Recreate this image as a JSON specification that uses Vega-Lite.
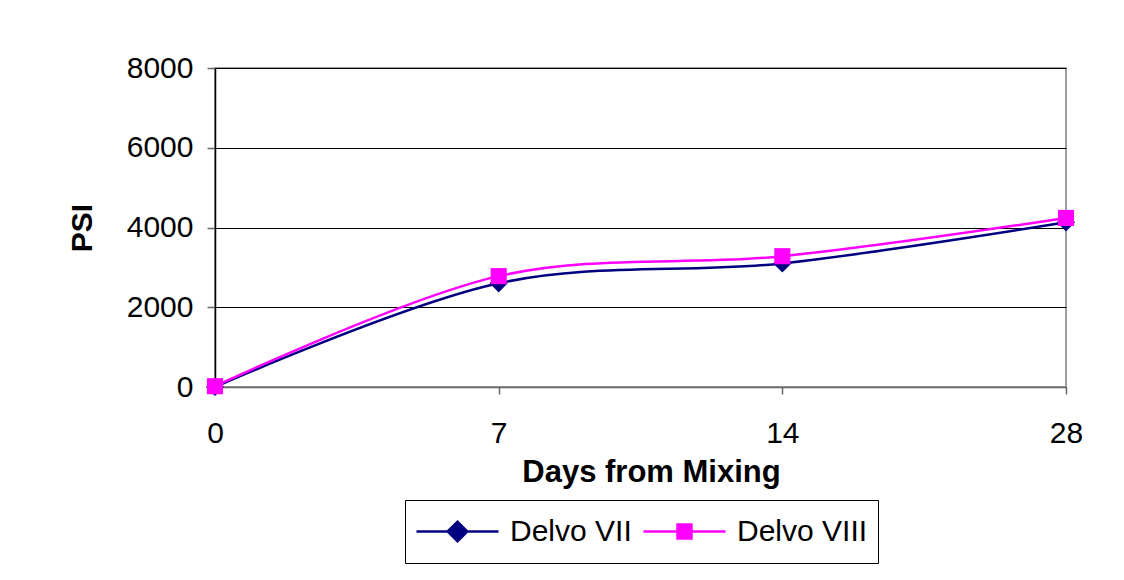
{
  "$schema": "https://vega.github.io/schema/vega-lite/v6.json",
  "width": 851,
  "height": 319,
  "autosize": {"type": "none"},
  "padding": {"left": 215, "top": 68, "right": 58, "bottom": 193},
  "background": "white",
  "data": {
    "values": [
      {"day": 0, "series": "Delvo VII", "psi": 0},
      {"day": 7, "series": "Delvo VII", "psi": 2600},
      {"day": 14, "series": "Delvo VII", "psi": 3100},
      {"day": 28, "series": "Delvo VII", "psi": 4130},
      {"day": 0, "series": "Delvo VIII", "psi": 20},
      {"day": 7, "series": "Delvo VIII", "psi": 2780},
      {"day": 14, "series": "Delvo VIII", "psi": 3280},
      {"day": 28, "series": "Delvo VIII", "psi": 4240}
    ]
  },
  "config": {
    "font": "Liberation Sans",
    "view": {"stroke": "#808080", "strokeWidth": 1.5},
    "axis": {
      "labelFont": "Liberation Sans",
      "titleFont": "Liberation Sans",
      "labelFontSize": 30,
      "titleFontSize": 31,
      "titleFontWeight": "bold",
      "labelColor": "black",
      "titleColor": "black"
    }
  },
  "encoding": {
    "x": {
      "field": "day",
      "type": "ordinal",
      "scale": {"type": "point", "padding": 0},
      "axis": {
        "title": "Days from Mixing",
        "labelAngle": 0,
        "grid": false,
        "domainColor": "#666666",
        "domainWidth": 1.5,
        "tickColor": "#666666",
        "tickSize": 7,
        "tickWidth": 1.5,
        "labelPadding": 24,
        "titlePadding": 9,
        "titleX": 436
      }
    },
    "y": {
      "field": "psi",
      "type": "quantitative",
      "scale": {"domain": [0, 8000], "nice": false},
      "axis": {
        "title": "PSI",
        "titleFontSize": 30,
        "values": [0, 2000, 4000, 6000, 8000],
        "format": "d",
        "grid": true,
        "gridColor": "black",
        "gridWidth": 1,
        "domainColor": "black",
        "domainWidth": 1.5,
        "tickColor": "#666666",
        "tickSize": 8,
        "tickWidth": 1.5,
        "labelPadding": 14,
        "titlePadding": 29
      }
    },
    "color": {
      "field": "series",
      "type": "nominal",
      "scale": {"domain": ["Delvo VII", "Delvo VIII"], "range": ["#000080", "#FF00FF"]},
      "legend": {
        "title": null,
        "orient": "none",
        "legendX": 190,
        "legendY": 432,
        "direction": "horizontal",
        "columns": 2,
        "strokeColor": "black",
        "fillColor": "white",
        "padding": 10,
        "labelFont": "Liberation Sans",
        "labelFontSize": 30,
        "labelColor": "black",
        "labelOffset": 10,
        "columnPadding": 10,
        "symbolSize": 6724,
        "clipHeight": 43,
        "symbolStrokeWidth": 2.5,
        "encode": {
          "symbols": {
            "update": {
              "shape": {"signal": "datum.value === 'Delvo VII' ? 'M-1,0L1,0M-0.24,0L0,-0.24L0.24,0L0,0.24Z' : 'M-1,0L1,0M-0.17,-0.17L0.17,-0.17L0.17,0.17L-0.17,0.17Z'"},
              "fill": {"signal": "datum.value === 'Delvo VII' ? '#000080' : '#FF00FF'"},
              "stroke": {"signal": "datum.value === 'Delvo VII' ? '#000080' : '#FF00FF'"},
              "strokeWidth": {"value": 2.5},
              "opacity": {"value": 1}
            }
          }
        }
      }
    }
  },
  "layer": [
    {
      "mark": {"type": "line", "interpolate": "cardinal", "strokeWidth": 2.5}
    },
    {
      "transform": [{"filter": "datum.series === 'Delvo VII'"}],
      "mark": {"type": "point", "filled": true, "opacity": 1, "shape": "diamond", "size": 330}
    },
    {
      "transform": [{"filter": "datum.series === 'Delvo VIII'"}],
      "mark": {"type": "point", "filled": true, "opacity": 1, "shape": "square", "size": 260}
    }
  ]
}
